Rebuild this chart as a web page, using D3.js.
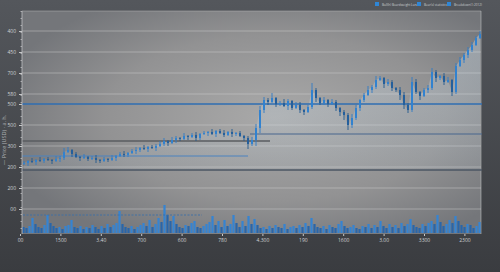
<!DOCTYPE html>
<html>
<head>
<meta charset="utf-8">
<script src="https://cdn.jsdelivr.net/npm/d3@7"></script>
<style>
  html, body { margin: 0; padding: 0; background: #45484c; }
  svg { display: block; }
  .axis text { font-family: "Open Sans", "DejaVu Sans", sans-serif; fill: #cfd1d4; }
</style>
</head>
<body>
<div id="chart"></div>
<script>
// Candle closes (price units), one per candle
const closes = [
  77, 79, 78, 80, 79, 81, 80, 79, 81, 82,
  88, 90, 86,
  83, 82, 83, 81, 82, 80, 79, 81, 80,
  82, 84, 86, 85, 87,
  89, 90, 92, 91, 93, 92, 94, 96,
  99, 97, 100, 102,
  101, 104, 103, 105, 102, 106,
  107, 108, 106, 109, 107, 105, 108, 106, 107, 104,
  102, 96, 100, 112,
  130, 140,
  138, 142, 136, 137, 134, 139, 132, 135, 130, 128, 133,
  150, 142, 137,
  140, 136, 138, 132, 128, 125,
  115, 122,
  132, 140, 145, 150, 153,
  160, 162, 156, 158,
  152, 150, 145, 135,
  130, 158,
  148, 144, 150, 152,
  168, 162, 164, 158, 160,
  148,
  174, 180, 185, 190,
  195, 202, 206
];
const firstOpen = 76;
const wickHi = [
  2, 1, 3, 1, 3, 1, 2, 1, 3, 2,  4, 3, 1,  2, 1, 3, 1, 2, 3, 1, 2, 1,
  3, 1, 2, 3, 1,  2, 3, 1, 3, 1, 2, 2, 3,  3, 1, 3, 2,  1, 3, 1, 2, 3, 1,
  2, 1, 3, 1, 2, 3, 1, 3, 1, 2,  1, 2, 3, 4,  4, 3,
  2, 5, 1, 2, 4, 2, 1, 3, 3, 1, 2,  7, 2, 1,  3, 1, 3, 2, 1, 2,  2, 4,
  3, 1, 2, 4, 2,  4, 2, 1, 3,  2, 1, 3, 3,  2, 5,  3, 1, 2, 3,
  4, 2, 1, 3, 3,  1,  3, 3, 2, 3,  3, 2, 3
];
const wickLo = [
  1, 3, 1, 3, 1, 2, 1, 3, 1, 3,  2, 1, 3,  1, 3, 1, 2, 1, 3, 2, 1, 2,
  1, 3, 1, 2, 2,  1, 3, 2, 1, 3, 1, 3, 1,  2, 3, 1, 3,  2, 1, 3, 1, 3, 2,
  1, 3, 1, 3, 1, 2, 1, 3, 2, 1,  3, 5, 2, 6,  5, 3,
  3, 1, 3, 2, 1, 4, 2, 1, 3, 3, 1,  2, 4, 2,  2, 3, 1, 3, 4, 5,  5, 3,
  2, 3, 2, 1, 3,  2, 1, 4, 2,  3, 2, 5, 4,  3, 2,  2, 4, 1, 3,
  2, 4, 2, 3, 1,  4,  2, 1, 3, 3,  2, 1, 1
];

// Volume bars
const volumes = [
  6, 5, 7, 15, 9, 6, 5, 8, 18, 10,
  7, 5, 6, 4, 7, 8, 13, 6, 5, 7,
  4, 6, 5, 8, 6, 4, 7, 5, 9, 6,
  8, 10, 22, 9, 6, 5, 7, 4, 6, 8,
  10, 7, 13, 6, 9, 15, 11, 28, 18, 12,
  17, 9, 6, 5, 8, 7, 10, 12, 6, 5,
  7, 9, 11, 17, 8, 12, 6, 13, 7, 9,
  18, 10, 6, 12, 7, 17, 9, 14, 8, 5,
  6, 4, 7, 5, 8, 6, 5, 9, 4, 6,
  7, 5, 8, 6, 10, 7, 15, 9, 6, 5,
  7, 4, 8, 6, 5, 9, 12, 7, 5, 6,
  8, 5, 4, 7, 6, 9, 5, 8, 6, 12,
  7, 5, 9, 6, 8, 5, 10, 7, 9, 14,
  8, 6, 5, 9, 7, 10, 12, 9, 18, 11,
  7, 9, 13, 10, 17, 12, 8, 6, 9, 8,
  5, 7, 11
];
const volumeAvg = 18;
const volumeAvgSpan = [0.25, 45];

// Horizontal levels: value, start index, end index
const levelValues = [136, 106, 99, 84, 70];
const levelStarts = [0, 57, 0, 0, 0];
const levelEnds = [115, 115, 62, 56.5, 115];

// Axis ticks
const yTickValues = [209, 188, 167, 146, 136, 115, 94, 73, 52, 31];
const yTickLabels = ["400", "450", "700", "580", "500", "500", "300", "200", "200", "00"];
const xTickValues = [-0.5, 9.6, 19.7, 29.8, 39.9, 50, 60.1, 70.2, 80.3, 90.4, 100.5, 110.6];
const xTickLabels = ["00", "1500", "3.40", "700", "600", "780", "4.300", "190", "1600", "3.00", "3300", "2300"];

const legendLabels = ["Bull(h) Boardweight Luna", "Bear(s) statistics", "Breakdown(1:2012)"];
const yTitle = "\u2014  Price (USD) \u00b7 a. h.";

const W = 500, H = 272;
const plot = { left: 22, right: 481, top: 11, bottom: 234 };

const svg = d3.select('#chart').append('svg')
    .attr('width', W)
    .attr('height', H);

const defs = svg.append('defs');

const bg = defs.append('linearGradient').attr('id', 'bg').attr('x1', 0).attr('y1', 0).attr('x2', 0).attr('y2', 1);
bg.append('stop').attr('offset', '0%').attr('stop-color', '#54575c');
bg.append('stop').attr('offset', '100%').attr('stop-color', '#3a3c40');

const plotBg = defs.append('radialGradient').attr('id', 'plotbg')
    .attr('cx', '55%').attr('cy', '48%').attr('r', '62%');
plotBg.append('stop').attr('offset', '0%').attr('stop-color', '#a9a9a9');
plotBg.append('stop').attr('offset', '60%').attr('stop-color', '#929293');
plotBg.append('stop').attr('offset', '100%').attr('stop-color', '#74767a');

const areaGrad = defs.append('linearGradient').attr('id', 'areagrad').attr('x1', 0).attr('y1', 0).attr('x2', 0).attr('y2', 1);
areaGrad.append('stop').attr('offset', '0%').attr('stop-color', '#d4e4f0').attr('stop-opacity', 0.38);
areaGrad.append('stop').attr('offset', '100%').attr('stop-color', '#c4d6e4').attr('stop-opacity', 0.12);

svg.append('rect').attr('width', W).attr('height', H).attr('fill', 'url(#bg)');

svg.append('rect')
    .attr('x', plot.left).attr('y', plot.top)
    .attr('width', plot.right - plot.left).attr('height', plot.bottom - plot.top)
    .attr('fill', 'url(#plotbg)');

// Scales
const x = d3.scaleLinear().domain([0, closes.length]).range([plot.left, 482]);
const y = d3.scaleLinear().domain([0, 230]).range([240, 10]);
const xVol = d3.scaleLinear().domain([0, volumes.length]).range([plot.left, plot.right]);
const yVol = d3.scaleLinear().domain([0, 33]).range([233, 200]);

// Candle records
const candles = closes.map((c, i) => {
    const o = i === 0 ? firstOpen : closes[i - 1];
    return {
        i, o, c,
        h: Math.max(o, c) + wickHi[i],
        l: Math.min(o, c) - wickLo[i]
    };
});

// Grid
const grid = svg.append('g');
grid.selectAll('line')
    .data(yTickValues.filter(v => !levelValues.includes(v)))
    .enter().append('line')
    .attr('x1', plot.left).attr('x2', plot.right)
    .attr('y1', d => y(d)).attr('y2', d => y(d))
    .attr('stroke', '#d6d6d6').attr('stroke-opacity', 0.55).attr('stroke-width', 0.8);

// Frame lines (top and right)
svg.append('line').attr('x1', plot.left).attr('x2', plot.right).attr('y1', plot.top).attr('y2', plot.top)
    .attr('stroke', '#b9babb').attr('stroke-opacity', 0.6).attr('stroke-width', 0.8);
svg.append('line').attr('x1', plot.right).attr('x2', plot.right).attr('y1', plot.top).attr('y2', plot.bottom)
    .attr('stroke', '#c4c5c6').attr('stroke-opacity', 0.7).attr('stroke-width', 0.8);

// Area under price
const area = d3.area()
    .x(d => x(d.i + 0.5))
    .y0(y(70))
    .y1(d => y(d.c));
svg.append('path').datum(candles).attr('d', area).attr('fill', 'url(#areagrad)');

// Levels
const levelColors = ['#2f6eb2', '#48668e', '#5a5c60', '#4b82bf', '#4b5663'];
const levelWidths = [1.4, 1.1, 1.5, 1, 1.6];
svg.append('g').selectAll('line')
    .data(levelValues)
    .enter().append('line')
    .attr('x1', (d, i) => x(levelStarts[i]))
    .attr('x2', (d, i) => x(levelEnds[i]))
    .attr('y1', d => y(d)).attr('y2', d => y(d))
    .attr('stroke', (d, i) => levelColors[i])
    .attr('stroke-width', (d, i) => levelWidths[i]);

// Candles
const cg = svg.append('g');
cg.selectAll('line')
    .data(candles)
    .enter().append('line')
    .attr('x1', d => x(d.i + 0.5)).attr('x2', d => x(d.i + 0.5))
    .attr('y1', d => y(d.h)).attr('y2', d => y(d.l))
    .attr('stroke', d => d.c >= d.o ? '#2f7ac6' : '#23598f')
    .attr('stroke-width', 0.9);
cg.selectAll('rect')
    .data(candles)
    .enter().append('rect')
    .attr('x', d => x(d.i + 0.5) - 1)
    .attr('width', 2)
    .attr('y', d => y(Math.max(d.o, d.c)))
    .attr('height', d => Math.max(1, Math.abs(y(d.o) - y(d.c))))
    .attr('fill', d => d.c >= d.o ? '#3282cf' : '#245f9c');

// Volume
svg.append('g').selectAll('rect')
    .data(volumes)
    .enter().append('rect')
    .attr('x', (d, i) => xVol(i) + 0.4)
    .attr('width', 2.2)
    .attr('y', d => yVol(d))
    .attr('height', d => yVol(0) - yVol(d))
    .attr('fill', (d, i) => i > 0 && d > volumes[i - 1] ? '#3584d2' : '#2866ab');

svg.append('line')
    .attr('x1', x(volumeAvgSpan[0])).attr('x2', x(volumeAvgSpan[1]))
    .attr('y1', yVol(volumeAvg)).attr('y2', yVol(volumeAvg))
    .attr('stroke', '#3d6fa8').attr('stroke-width', 0.9).attr('stroke-dasharray', '2,1.5');

// Axes
const yAxis = svg.append('g').attr('class', 'axis')
    .attr('transform', `translate(${plot.left},0)`)
    .call(d3.axisLeft(y).tickValues(yTickValues).tickFormat((d, i) => yTickLabels[i]).tickSize(3).tickPadding(3));
yAxis.select('.domain').attr('stroke', '#bfc1c3').attr('stroke-opacity', 0.8).attr('d', `M0,${plot.top}V${plot.bottom}`);
yAxis.selectAll('.tick line').attr('stroke', '#c7c8ca');
yAxis.selectAll('text').attr('font-size', 5);

const yMinor = svg.append('g')
    .attr('transform', `translate(${plot.left},0)`)
    .call(d3.axisLeft(y).tickValues(d3.range(12, 230, 7)).tickFormat('').tickSize(1.5));
yMinor.select('.domain').remove();
yMinor.selectAll('.tick line').attr('stroke', '#c7c8ca').attr('stroke-opacity', 0.7);

const xAxis = svg.append('g').attr('class', 'axis')
    .attr('transform', `translate(0,${plot.bottom})`)
    .call(d3.axisBottom(x).tickValues(xTickValues).tickFormat((d, i) => xTickLabels[i]).tickSize(2).tickPadding(2.5));
xAxis.select('.domain').remove();
xAxis.selectAll('.tick line').attr('stroke', '#c7c8ca');
xAxis.selectAll('text').attr('font-size', 5);

// Y title
svg.append('text')
    .attr('transform', 'translate(6,140) rotate(-90)')
    .attr('text-anchor', 'middle')
    .attr('font-family', '"Open Sans", "DejaVu Sans", sans-serif')
    .attr('font-size', 5.5)
    .attr('fill', '#aeb1b5')
    .text(yTitle);

// Legend
const legendX = [375, 417, 447];
const legend = svg.append('g');
legendLabels.forEach((lab, i) => {
    legend.append('rect')
        .attr('x', legendX[i]).attr('y', 2)
        .attr('width', 4).attr('height', 4)
        .attr('fill', '#2f86d6');
    legend.append('text')
        .attr('x', legendX[i] + 7).attr('y', 5.5)
        .attr('font-family', '"Open Sans", "DejaVu Sans", sans-serif')
        .attr('font-size', 3.1)
        .attr('fill', '#c9ccd0')
        .text(lab);
});
</script>
</body>
</html>
